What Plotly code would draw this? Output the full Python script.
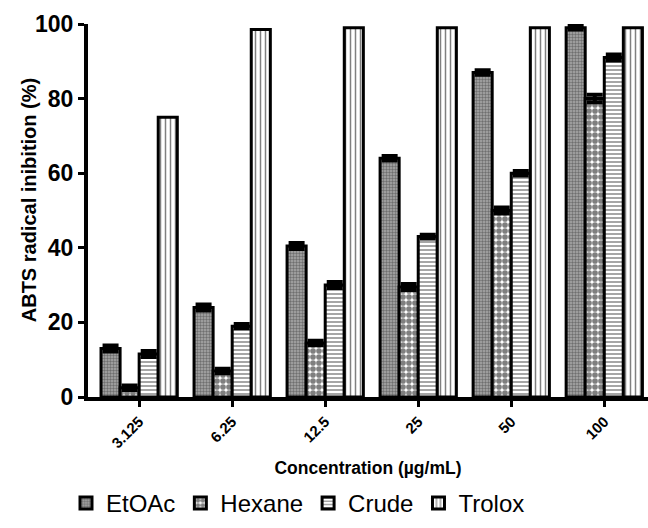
import plotly.graph_objects as go

categories = ["3.125", "6.25", "12.5", "25", "50", "100"]
etoac = [13, 24, 40.5, 64, 87, 99]
hexane = [2.5, 7, 14.5, 29.5, 50, 80]
crude = [11.5, 19, 30, 43, 60, 91]
trolox = [75, 98.5, 99, 99, 99, 99]
etoac_err = [0.8, 0.8, 0.8, 0.6, 0.6, 0.5]
hexane_err = [0.6, 0.6, 0.6, 0.8, 0.8, 1.0]
crude_err = [0.8, 0.6, 0.8, 0.5, 0.6, 0.8]
trolox_err = [0, 0, 0, 0, 0, 0]

series = [
    ("EtOAc", etoac, etoac_err, dict(shape=".", size=3, solidity=0.5, fgcolor="#333333", bgcolor="#aaaaaa")),
    ("Hexane", hexane, hexane_err, dict(shape=".", size=6, solidity=0.7, fgcolor="#000000", bgcolor="#ffffff")),
    ("Crude", crude, crude_err, dict(shape="-", size=4, solidity=0.35, fgcolor="#000000", bgcolor="#ffffff")),
    ("Trolox", trolox, trolox_err, dict(shape="|", size=5, solidity=0.3, fgcolor="#000000", bgcolor="#ffffff")),
]

font = "Arial, Liberation Sans, sans-serif"
fig = go.Figure()
for name, vals, errs, pat in series:
    fig.add_trace(go.Bar(
        name=name, x=categories, y=vals,
        marker=dict(color="white", line=dict(color="black", width=3), pattern=pat),
        error_y=dict(type="data", array=errs, visible=any(e > 0 for e in errs),
                     color="black", thickness=4, width=8),
    ))

fig.update_layout(
    width=648, height=528,
    margin=dict(l=88, r=0, t=24, b=131),
    paper_bgcolor="white", plot_bgcolor="white",
    barmode="group", bargap=0.18, bargroupgap=0,
    font=dict(family=font, color="black"),
    showlegend=True,
    legend=dict(orientation="h", x=0.375, xanchor="center", y=-0.285, yanchor="middle",
                font=dict(size=24, family=font), itemwidth=30, traceorder="normal"),
    xaxis=dict(
        range=[-0.55, 5.47], showline=True, linecolor="black", linewidth=4,
        ticks="outside", ticklen=6, tickwidth=3, tickcolor="black",
        tickangle=-45, tickfont=dict(size=15, family=font, weight="bold"),
        title=dict(text="Concentration (µg/mL)", font=dict(size=17.5, family=font, weight="bold"), standoff=12),
        showgrid=False, zeroline=False,
    ),
    yaxis=dict(
        range=[0, 100], tickvals=[0, 20, 40, 60, 80, 100],
        showline=True, linecolor="black", linewidth=4,
        ticks="outside", ticklen=6, tickwidth=3, tickcolor="black",
        tickfont=dict(size=23, family=font, weight="bold"),
        showgrid=False, zeroline=False,
    ),
    annotations=[dict(
        text="ABTS radical inibition (%)", textangle=-90,
        xref="paper", yref="paper", x=-0.105, y=0.528, xanchor="center", yanchor="middle",
        showarrow=False, font=dict(size=20, family=font, weight="bold"),
    )],
)

fig.write_html("out.html")
